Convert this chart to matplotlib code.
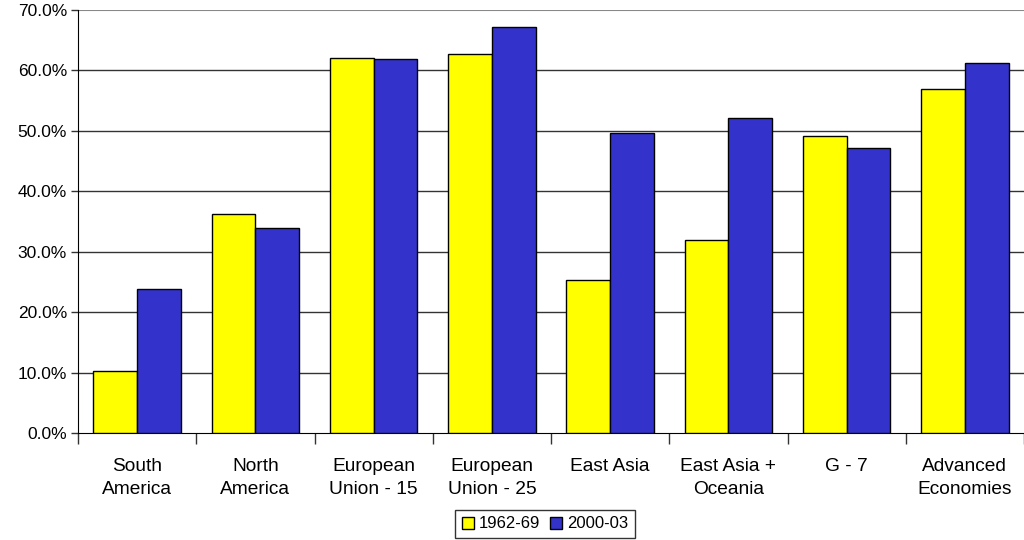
import matplotlib.pyplot as plt
import numpy as np
from matplotlib.ticker import FuncFormatter, FixedLocator

plt.rcParams['font.family'] = ['Liberation Sans', 'DejaVu Sans']

# Data
regions = ['South\nAmerica', 'North\nAmerica', 'European\nUnion - 15', 'European\nUnion - 25',
           'East Asia', 'East Asia +\nOceania', 'G - 7', 'Advanced\nEconomies']
period_1962 = [10.3, 36.2, 62.1, 62.7, 25.4, 31.9, 49.2, 57.0]
period_2000 = [23.8, 33.9, 61.9, 67.2, 49.6, 52.1, 47.2, 61.2]

x = np.arange(len(regions))
width = 0.37

fig = plt.figure(figsize=(10.24, 5.4), dpi=100)
ax = fig.add_axes([78 / 1024, 107 / 540, 946 / 1024, 423 / 540])

ax.bar(x - width / 2, period_1962, width, label='1962-69', color='#FFFF00',
       edgecolor='black', linewidth=1, zorder=3)
ax.bar(x + width / 2, period_2000, width, label='2000-03', color='#3333CC',
       edgecolor='black', linewidth=1, zorder=3)

ax.set_xlim(-0.5, len(regions) - 0.5)
ax.set_ylim(0, 70)
ax.set_yticks(np.arange(0, 71, 10))
ax.yaxis.set_major_formatter(FuncFormatter(lambda v, p: f'{v:.1f}%'))
for yv in range(10, 70, 10):
    ax.axhline(yv, color='#333333', linewidth=1, zorder=1)
ax.axhline(70, color='#888888', linewidth=1.5, zorder=1)

# category labels between boundary ticks
ax.xaxis.set_major_locator(FixedLocator(np.arange(-0.5, len(regions), 1)))
ax.xaxis.set_minor_locator(FixedLocator(x))
ax.set_xticklabels([])
ax.set_xticklabels(regions, minor=True)
ax.tick_params(axis='x', which='major', length=8, width=1, direction='out', color='#333333')
ax.tick_params(axis='x', which='minor', length=0, pad=18, labelsize=13.8)
ax.tick_params(axis='y', length=5, width=1, direction='out', labelsize=12.5, pad=3, color='#333333')
for lbl in ax.get_xticklabels(minor=True):
    lbl.set_linespacing(1.45)

for s in ['top', 'right']:
    ax.spines[s].set_visible(False)
ax.spines['left'].set_color('black')
ax.spines['bottom'].set_color('black')

leg = fig.legend(loc='center', bbox_to_anchor=(545 / 1024, 1 - 524 / 540), ncol=2,
                 fontsize=12, frameon=True, fancybox=False, handlelength=0.7,
                 handleheight=0.7, handletextpad=0.3, columnspacing=0.6,
                 borderpad=0.4, edgecolor='black')
leg.get_frame().set_linewidth(1)

fig.savefig('out.png', dpi=100)
